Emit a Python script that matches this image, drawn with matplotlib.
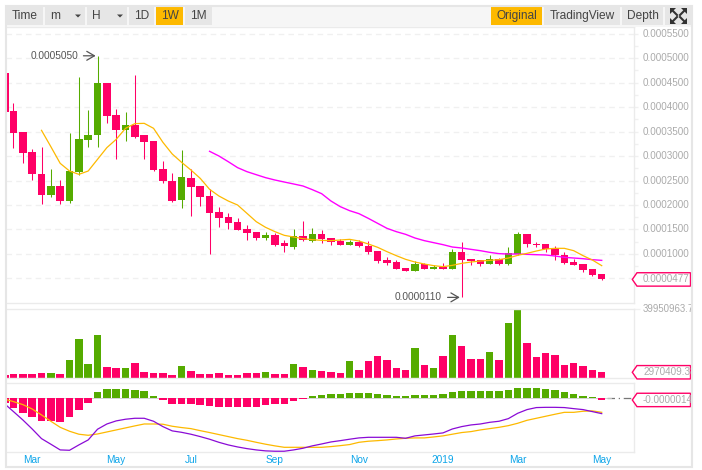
import numpy as np
import matplotlib
matplotlib.use('agg')
import matplotlib.pyplot as plt
from matplotlib.patches import Rectangle, Polygon
from matplotlib.transforms import Bbox

plt.rcParams['font.family'] = ['Liberation Sans', 'DejaVu Sans']

W, H = 702, 470

# prices in units of 1e-7
opens = [4699, 3921, 3492, 3083, 2633, 2210, 2388, 2088, 2674, 3335, 3438, 4494, 3840, 3540, 3635, 3431,
         3308, 2735, 2490, 2108, 2551, 2388, 2183, 1855, 1754, 1651, 1508, 1447, 1331, 1385, 1229, 1147,
         1365, 1263, 1406, 1324, 1263, 1181, 1249, 1167, 1058, 874, 833, 711, 656, 792, 690, 738, 690,
         1038, 895, 874, 792, 895, 792, 997, 1406, 1202, 1202, 1120, 977, 833, 792, 690, 588]
closes = [3908, 3478, 3069, 2640, 2210, 2388, 2088, 2694, 3349, 3431, 4494, 3826, 3540, 3635, 3397, 3294,
          2715, 2497, 2081, 2572, 2374, 2169, 1842, 1740, 1638, 1495, 1426, 1324, 1385, 1174, 1167, 1365,
          1283, 1406, 1304, 1242, 1181, 1242, 1167, 1038, 854, 813, 697, 656, 792, 690, 731, 690, 1038,
          874, 854, 792, 895, 792, 1017, 1406, 1202, 1181, 1099, 970, 813, 772, 670, 568, 477]
highs = [4699, 4078, 3492, 3138, 3185, 2729, 2504, 3465, 4610, 3935, 5050, 4494, 3956, 3894, 4651, 3431,
         3308, 2892, 2647, 3117, 2729, 2388, 2333, 1951, 1829, 1726, 1590, 1447, 1440, 1420, 1283, 1501,
         1672, 1522, 1488, 1324, 1304, 1283, 1283, 1263, 1058, 929, 874, 711, 861, 820, 772, 813, 1099,
         1242, 895, 874, 977, 908, 1140, 1454, 1406, 1242, 1202, 1161, 1038, 895, 792, 690, 588]
lows = [3908, 3158, 2851, 2504, 2013, 2156, 2013, 2040, 2613, 3192, 3192, 3669, 2933, 3301, 3376, 2933,
        2688, 2456, 2067, 1931, 1767, 1985, 990, 1542, 1501, 1488, 1290, 1283, 1283, 1167, 1031, 1093,
        1263, 1236, 1215, 1181, 1181, 1181, 1147, 997, 806, 779, 683, 656, 656, 683, 683, 683, 683,
        110, 772, 759, 786, 779, 772, 977, 1147, 1140, 1045, 874, 792, 765, 629, 547, 472]

ma_fast_start = 4
ma_fast = [3526, 3192, 2851, 2694, 2626, 2694, 2933, 3172, 3342, 3567, 3663, 3669, 3567, 3281, 3042, 2872,
           2715, 2544, 2320, 2183, 2081, 1999, 1829, 1658, 1542, 1454, 1379, 1345, 1311, 1290, 1276, 1270,
           1283, 1297, 1263, 1202, 1134, 1045, 963, 888, 833, 792, 759, 738, 765, 806, 833, 854, 867, 881,
           915, 970, 1011, 1058, 1099, 1113, 1113, 1065, 963, 874, 759]
ma_slow_start = 22
ma_slow = [3097, 3001, 2885, 2763, 2681, 2619, 2558, 2510, 2469, 2429, 2388, 2313, 2231, 2081, 1965, 1883,
           1822, 1726, 1624, 1522, 1454, 1399, 1324, 1270, 1229, 1188, 1140, 1120, 1092, 1065, 1031, 1004,
           997, 997, 990, 983, 977, 956, 929, 915, 901, 881, 867]

# volume in millions
volumes = [1.21, 1.80, 1.80, 1.80, 2.38, 2.38, 1.80, 10.0, 22.3, 7.67, 24.7, 5.91, 5.32, 5.32, 8.25, 2.97,
           2.38, 2.38, 1.21, 6.49, 3.56, 1.80, 1.80, 2.38, 1.21, 1.21, 2.38, 2.38, 2.97, 1.80, 1.80, 7.67,
           5.91, 4.14, 3.56, 2.97, 2.38, 9.43, 4.14, 9.43, 12.4, 10.0, 5.32, 4.14, 17.06, 7.08, 5.32, 12.4,
           24.7, 18.2, 10.6, 10.6, 14.7, 10.0, 31.7, 39.95, 20.0, 11.8, 14.1, 13.0, 7.08, 8.25, 6.49, 4.14, 2.97]

# macd in units of 1e-7
hist = [-39, -81, -123, -157, -190, -190, -199, -157, -98, -39, 53, 78, 78, 78, 70, 62, 20, -14, -48, -48,
        -48, -56, -64, -73, -73, -73, -73, -73, -56, -48, -48, -22, -6, 20, 28, 36, 36, 45, 45, 45, 36, 28,
        20, 20, 28, 28, 28, 36, 53, 62, 62, 62, 62, 62, 70, 87, 87, 87, 78, 70, 53, 36, 20, 11, -14]
dif = [-50, -112, -182, -258, -339, -386, -434, -437, -392, -350, -260, -216, -190, -176, -168, -168, -193,
       -238, -274, -286, -302, -322, -344, -370, -392, -409, -423, -434, -442, -445, -445, -434, -420, -400,
       -384, -367, -356, -344, -333, -328, -328, -328, -328, -336, -316, -308, -300, -291, -258, -238, -224,
       -216, -202, -193, -171, -126, -95, -78, -76, -76, -78, -87, -95, -112, -129]
dea = [-8, -28, -53, -90, -140, -193, -244, -277, -302, -311, -300, -283, -266, -249, -232, -216, -216, -218,
       -235, -246, -255, -272, -288, -305, -322, -339, -353, -370, -386, -400, -412, -412, -412, -412, -412,
       -406, -398, -389, -370, -361, -356, -350, -342, -336, -333, -333, -325, -316, -302, -288, -280, -266,
       -255, -244, -230, -210, -185, -168, -151, -134, -118, -118, -109, -106, -118]

month_pos = [3, 12, 20, 29, 38, 47, 55, 64]
month_names = ['Mar', 'May', 'Jul', 'Sep', 'Nov', '2019', 'Mar', 'May']
price_ticks = [500, 1000, 1500, 2000, 2500, 3000, 3500, 4000, 4500, 5000, 5500]

left_buttons = [('Time', 7, 43), ('m', 45, 85), ('H', 87, 127), ('1D', 129, 154), ('1W', 156, 183), ('1M', 185, 212)]
right_buttons = [('Original', 491, 542), ('TradingView', 544, 620), ('Depth', 622, 663)]

PINK = '#ff0066'
GREEN = '#55ab00'
ORANGE = '#fdb900'
MAGENTA = '#ff00ff'
PURPLE = '#8a0bd6'
GRID = '#f0f0f0'
FRAME = '#ebebeb'
LABEL = '#aaaaaa'
BAR_W = 0.8


def fig_rect(fig, x0, y0, x1, y1, **kw):
    fig.add_artist(Rectangle((x0 / W, 1 - y1 / H), (x1 - x0) / W, (y1 - y0) / H,
                             transform=fig.transFigure, **kw))


def fig_poly(fig, pts, **kw):
    fig.add_artist(Polygon([(x / W, 1 - y / H) for x, y in pts], closed=True,
                           transform=fig.transFigure, **kw))


def fig_text(fig, x, y, s, **kw):
    return fig.text(x / W, 1 - y / H, s, **kw)


def panel(fig, top, bottom):
    ax = fig.add_axes([6 / W, 1 - bottom / H, (634.3 - 6) / W, (bottom - top) / H])
    ax.set_xlim(0.197, 67.49)
    ax.set_xticks([])
    ax.set_yticks([])
    for s in ax.spines.values():
        s.set_color(FRAME)
        s.set_linewidth(1)
    ax.spines['left'].set_visible(False)
    return ax


def clip_right(t):
    t.set_clip_box(Bbox([[0, 0], [692, H]]))
    t.set_clip_on(True)


def value_tag(fig, ax, value, text):
    y = ax.transData.transform((0, value))[1]
    y = H - y
    fig_poly(fig, [(632.3, y), (637, y - 6.7), (690.5, y - 6.7), (690.5, y + 6.7), (637, y + 6.7)],
             facecolor='white', edgecolor=PINK, linewidth=1, zorder=5)
    t = fig_text(fig, 643, y, text, color=LABEL, fontsize=7.1, va='center', ha='left', zorder=6)
    clip_right(t)


n = len(opens)
idx = np.arange(n, dtype=float)
idx[0] = 0.1  # first candle sits a bit further right than the regular spacing
o = np.array(opens)
c = np.array(closes)
colors = [GREEN if c[i] > o[i] else PINK for i in range(n)]

fig = plt.figure(figsize=(W / 100, H / 100), dpi=100, facecolor='white')

# price panel
ax = panel(fig, 26.7, 303.3)
ax.set_ylim(-11, 5645)
ax.set_yticks(price_ticks)
ax.set_yticks(np.array(price_ticks[:-1]) + 250, minor=True)
ax.yaxis.tick_right()
ax.tick_params(axis='y', which='major', length=3, width=1, color=GRID, labelright=False)
ax.tick_params(axis='y', which='minor', length=3, width=1, color=GRID, labelright=False)
ax.grid(axis='y', color=GRID, linestyle=(0, (4, 3)), linewidth=1)
ax.set_axisbelow(True)
ax.vlines(idx, lows, highs, colors=colors, linewidth=0.75, zorder=2)
ax.bar(idx, np.abs(o - c), BAR_W, bottom=np.minimum(o, c), color=colors, zorder=3)
ax.plot(np.arange(len(ma_slow)) + ma_slow_start, ma_slow, color=MAGENTA, lw=1.0, zorder=4)
ax.plot(np.arange(len(ma_fast)) + ma_fast_start, ma_fast, color=ORANGE, lw=0.9, zorder=5)
for v in price_ticks[1:]:
    ax.annotate('%.7f' % (v * 1e-7), xy=(1, v), xycoords=('axes fraction', 'data'), xytext=(6, 0),
                textcoords='offset points', color=LABEL, fontsize=7.1, va='center', ha='left')

hi = int(np.argmax(highs))
lo = int(np.argmin(lows))
for i, v in [(hi, highs[hi]), (lo, lows[lo])]:
    ax.annotate('%.7f' % (v * 1e-7), xy=(i - 0.2, v), xytext=(-12.8, 0), textcoords='offset points',
                color='#555555', fontsize=7.3, ha='right', va='center',
                arrowprops=dict(arrowstyle='->,head_width=0.32,head_length=0.55', color='#555555', lw=0.9,
                                shrinkA=2, shrinkB=0, relpos=(1, 0.5), mutation_scale=10),
                zorder=7)

# volume panel
ax_v = panel(fig, 308.7, 378.3)
v_bottom = -0.55
ax_v.set_ylim(v_bottom, 40.05)
ax_v.bar(idx, np.array(volumes) - v_bottom, BAR_W, bottom=v_bottom, color=colors)
ax_v.yaxis.tick_right()
ax_v.set_yticks([39.95])
ax_v.tick_params(axis='y', length=4, width=1, color=GRID, labelright=False)
t = ax_v.annotate('39950963.74', xy=(1, volumes[55]), xycoords=('axes fraction', 'data'), xytext=(6, 0),
                  textcoords='offset points', color=LABEL, fontsize=6.9, va='center', ha='left')
clip_right(t)

# macd panel
ax_m = panel(fig, 383.3, 452.3)
ax_m.set_ylim(-454, 126)
ax_m.bar(idx, hist, BAR_W, color=[GREEN if h > 0 else PINK for h in hist], zorder=2)
ax_m.plot(idx, dea, color=ORANGE, lw=0.9, zorder=3)
ax_m.plot(idx, dif, color=PURPLE, lw=0.9, zorder=4)
ax_m.plot([n - 0.4, 67.5], [0, 0], color='#777777', lw=0.9,
          linestyle=(0, (6, 3, 1, 3)), zorder=1)
ax_m.plot([-1, n], [0, 0], color='#cccccc', lw=0.6, zorder=1)
for i, name in zip(month_pos, month_names):
    ax_m.annotate(name, xy=(i, 0), xycoords=('data', 'axes fraction'), xytext=(0, -5.6),
                  textcoords='offset points', color='#0ea5e9', fontsize=7.3, ha='center', va='center')

fig.canvas.draw()
value_tag(fig, ax, closes[-1], '%.7f' % (closes[-1] * 1e-7))
value_tag(fig, ax_v, volumes[-1], '2970409.38')
value_tag(fig, ax_m, hist[-1], '%.7f' % (hist[-1] * 1e-7))

# toolbar and outer frame
fig_rect(fig, 6, 6, 691, 26.5, facecolor='#f6f6f6', edgecolor='none', zorder=1)
fig_rect(fig, 5.5, 5.5, 691.5, 467, facecolor='none', edgecolor='#e6e6e6', linewidth=1.5, zorder=8)
for name, x0, x1 in left_buttons + right_buttons:
    on = name in ('1W', 'Original')
    fig_rect(fig, x0, 7, x1, 25, facecolor=ORANGE if on else '#e6e6e6', edgecolor='none', zorder=2)
    xc = (x0 + x1) / 2
    ha = 'center'
    if name in ('m', 'H'):
        xc = x0 + 5
        ha = 'left'
        tx = x1 - 7
        fig_poly(fig, [(tx - 3, 14.5), (tx + 3, 14.5), (tx, 17.5)], facecolor='#444444', edgecolor='none', zorder=3)
    fig_text(fig, xc, 16, name, color='#444444', fontsize=8.6, ha=ha, va='center', zorder=3)
fig_rect(fig, 665, 7, 691, 25, facecolor='#e6e6e6', edgecolor='none', zorder=2)
for sx, sy, cx, cy in [(-1, -1, 670, 8), (1, -1, 687, 8), (-1, 1, 670, 24), (1, 1, 687, 24)]:
    fig_poly(fig, [(cx, cy), (cx - sx * 6, cy), (cx, cy - sy * 6)], facecolor='#333333', edgecolor='none', zorder=3)
    fig.add_artist(plt.Line2D([(cx - sx * 2) / W, (cx - sx * 7) / W], [1 - (cy - sy * 2) / H, 1 - (cy - sy * 7) / H],
                              color='#333333', lw=1.5, zorder=3))

fig.savefig('out.png', dpi=100, facecolor='white')
